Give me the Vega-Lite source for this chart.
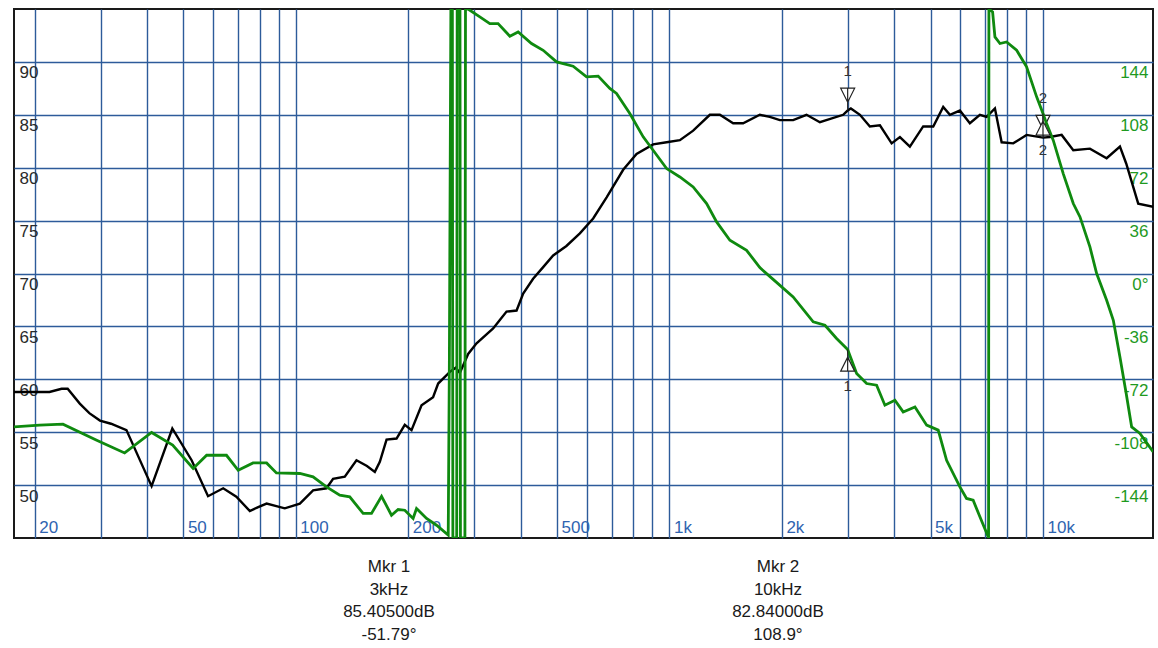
{
  "$schema": "https://vega.github.io/schema/vega-lite/v6.json",
  "background": "white",
  "padding": {"left": 13, "top": 8, "right": 4, "bottom": 0},
  "config": {
    "view": {"stroke": "#1a1a1a", "strokeWidth": 2},
    "axis": {
      "domain": false,
      "ticks": false,
      "tickSize": 0,
      "title": null,
      "labelFont": "Liberation Sans",
      "labelFontSize": 17,
      "labelOverlap": false,
      "labelBound": false,
      "labelFlush": false,
      "gridColor": "#2d5b9a",
      "gridWidth": 1.4,
      "gridOpacity": 1
    },
    "text": {"font": "Liberation Sans"}
  },
  "datasets": {
    "magnitude": [
      {"freq": 17.6, "db": 58.8}, {"freq": 19.5, "db": 58.8}, {"freq": 21.9, "db": 58.8}, {"freq": 23.6, "db": 59.1},
      {"freq": 24.5, "db": 59.1}, {"freq": 26.4, "db": 57.7}, {"freq": 28, "db": 56.8}, {"freq": 29.9, "db": 56.1},
      {"freq": 32, "db": 55.8}, {"freq": 35.2, "db": 55.2}, {"freq": 41.1, "db": 49.9}, {"freq": 46.7, "db": 55.35},
      {"freq": 52.6, "db": 52.35}, {"freq": 58.2, "db": 48.95}, {"freq": 63.9, "db": 49.7}, {"freq": 69.3, "db": 48.9},
      {"freq": 75.3, "db": 47.55}, {"freq": 79, "db": 47.9}, {"freq": 83.5, "db": 48.25}, {"freq": 93.4, "db": 47.8},
      {"freq": 102.5, "db": 48.25}, {"freq": 111.2, "db": 49.5}, {"freq": 120.8, "db": 49.7}, {"freq": 125.8, "db": 50.6},
      {"freq": 135.2, "db": 50.8}, {"freq": 145.3, "db": 52.35}, {"freq": 155, "db": 51.8}, {"freq": 162.7, "db": 51.25},
      {"freq": 167.8, "db": 52.2}, {"freq": 174.9, "db": 54.3}, {"freq": 186, "db": 54.4}, {"freq": 195.7, "db": 55.7},
      {"freq": 204, "db": 55.2}, {"freq": 217, "db": 57.55}, {"freq": 233, "db": 58.3}, {"freq": 240.4, "db": 59.6},
      {"freq": 258.4, "db": 60.7}, {"freq": 268, "db": 61.1}, {"freq": 274.8, "db": 60.6}, {"freq": 289.2, "db": 62.4},
      {"freq": 304.6, "db": 63.4}, {"freq": 337.4, "db": 64.8}, {"freq": 351.6, "db": 65.6}, {"freq": 366.4, "db": 66.4},
      {"freq": 389.8, "db": 66.5}, {"freq": 406, "db": 68.1}, {"freq": 431.6, "db": 69.5}, {"freq": 459.2, "db": 70.6},
      {"freq": 488.4, "db": 71.7}, {"freq": 530, "db": 72.6}, {"freq": 575.8, "db": 73.8}, {"freq": 625, "db": 75.2},
      {"freq": 679, "db": 77.2}, {"freq": 752, "db": 79.8}, {"freq": 816.6, "db": 81.3}, {"freq": 904.4, "db": 82.2},
      {"freq": 982.8, "db": 82.4}, {"freq": 1066.6, "db": 82.6}, {"freq": 1157.6, "db": 83.5}, {"freq": 1283, "db": 85.0},
      {"freq": 1364.6, "db": 85.0}, {"freq": 1481, "db": 84.2}, {"freq": 1575, "db": 84.2}, {"freq": 1746, "db": 85.0},
      {"freq": 1857, "db": 84.8}, {"freq": 1975, "db": 84.5}, {"freq": 2144, "db": 84.5}, {"freq": 2328, "db": 85.0},
      {"freq": 2528, "db": 84.3}, {"freq": 2918, "db": 85.0}, {"freq": 3000, "db": 85.4}, {"freq": 3060, "db": 85.6},
      {"freq": 3236, "db": 85.0}, {"freq": 3440, "db": 83.9}, {"freq": 3660, "db": 84.0}, {"freq": 3934, "db": 82.3},
      {"freq": 4140, "db": 82.9}, {"freq": 4402, "db": 82.0}, {"freq": 4778, "db": 83.9}, {"freq": 5084, "db": 83.9},
      {"freq": 5406, "db": 85.75}, {"freq": 5634, "db": 85.0}, {"freq": 5992, "db": 85.4}, {"freq": 6372, "db": 84.2},
      {"freq": 6778, "db": 85.0}, {"freq": 7064, "db": 84.8}, {"freq": 7436, "db": 85.6}, {"freq": 7750, "db": 82.4},
      {"freq": 8324, "db": 82.3}, {"freq": 9038, "db": 83.1}, {"freq": 10000, "db": 82.84}, {"freq": 10434, "db": 82.9},
      {"freq": 11218, "db": 83.1}, {"freq": 12052, "db": 81.65}, {"freq": 13354, "db": 81.8}, {"freq": 14804, "db": 80.9},
      {"freq": 16068, "db": 82.0}, {"freq": 16700, "db": 80.4}, {"freq": 17986, "db": 76.6}, {"freq": 19726, "db": 76.3}
    ],
    "phase": [
      {"freq": 17.6, "deg": -104.4}, {"freq": 20.6, "deg": -103.2}, {"freq": 23.8, "deg": -102.5}, {"freq": 29.3, "deg": -113.5},
      {"freq": 34.8, "deg": -122.1}, {"freq": 41.1, "deg": -108.2}, {"freq": 46.8, "deg": -116.8}, {"freq": 53.1, "deg": -132.7},
      {"freq": 57.7, "deg": -123.7}, {"freq": 65.2, "deg": -123.7}, {"freq": 70.1, "deg": -133.9}, {"freq": 76.8, "deg": -128.9},
      {"freq": 83.5, "deg": -128.9}, {"freq": 88.7, "deg": -135.7}, {"freq": 102.5, "deg": -136.1}, {"freq": 111.2, "deg": -138.4},
      {"freq": 120.8, "deg": -145.2}, {"freq": 131.1, "deg": -150.9}, {"freq": 139.4, "deg": -152}, {"freq": 151.4, "deg": -163.3},
      {"freq": 159.4, "deg": -163.3}, {"freq": 169.6, "deg": -151.6}, {"freq": 180.3, "deg": -164.5}, {"freq": 187.8, "deg": -160.6},
      {"freq": 195.7, "deg": -161.1}, {"freq": 206, "deg": -166.7}, {"freq": 210.4, "deg": -159.9}, {"freq": 223.8, "deg": -166.7},
      {"freq": 238, "deg": -171.3}, {"freq": 255.8, "deg": -178}, {"freq": 257.6, "deg": -60}, {"freq": 260, "deg": 180},
      {"freq": 262.4, "deg": 180}, {"freq": 263.2, "deg": -180}, {"freq": 269.5, "deg": -180}, {"freq": 270.3, "deg": 180},
      {"freq": 275, "deg": 180}, {"freq": 275.8, "deg": -180}, {"freq": 283.5, "deg": -180}, {"freq": 284.5, "deg": 180},
      {"freq": 289, "deg": 180}, {"freq": 310.8, "deg": 174.6}, {"freq": 330.6, "deg": 170.1}, {"freq": 347.8, "deg": 170.1},
      {"freq": 374, "deg": 161.5}, {"freq": 393.6, "deg": 164.4}, {"freq": 427.4, "deg": 156.5}, {"freq": 459.2, "deg": 151.9},
      {"freq": 498.8, "deg": 144}, {"freq": 552.4, "deg": 141.1}, {"freq": 600, "deg": 133.8}, {"freq": 644.6, "deg": 134.3},
      {"freq": 692.6, "deg": 125.9}, {"freq": 721.8, "deg": 122.5}, {"freq": 783.4, "deg": 108.9}, {"freq": 850.6, "deg": 93},
      {"freq": 904.4, "deg": 83.9}, {"freq": 982.8, "deg": 71.4}, {"freq": 1066.6, "deg": 65.7}, {"freq": 1157.6, "deg": 58.9},
      {"freq": 1257.6, "deg": 47.6}, {"freq": 1337.6, "deg": 35.1}, {"freq": 1451.6, "deg": 22.6}, {"freq": 1608.8, "deg": 15.8},
      {"freq": 1746, "deg": 4}, {"freq": 1895, "deg": -4}, {"freq": 2144, "deg": -15.9}, {"freq": 2426, "deg": -32.9},
      {"freq": 2608, "deg": -35.2}, {"freq": 2802, "deg": -44.2}, {"freq": 3000, "deg": -51.79}, {"freq": 3170, "deg": -68.1},
      {"freq": 3372, "deg": -74.9}, {"freq": 3586, "deg": -76}, {"freq": 3774, "deg": -89.6}, {"freq": 4014, "deg": -86.2},
      {"freq": 4224, "deg": -94.2}, {"freq": 4542, "deg": -90.8}, {"freq": 4882, "deg": -103.2}, {"freq": 5242, "deg": -106.6},
      {"freq": 5520, "deg": -127.1}, {"freq": 5992, "deg": -145.2}, {"freq": 6242, "deg": -153.1}, {"freq": 6502, "deg": -154.3},
      {"freq": 6778, "deg": -165.6}, {"freq": 7136, "deg": -179.3}, {"freq": 7150, "deg": -180}, {"freq": 7165, "deg": 180},
      {"freq": 7330, "deg": 178}, {"freq": 7436, "deg": 161}, {"freq": 7670, "deg": 156.5}, {"freq": 7992, "deg": 157.6},
      {"freq": 8500, "deg": 151.9}, {"freq": 9038, "deg": 140.6}, {"freq": 9616, "deg": 120.2}, {"freq": 10000, "deg": 108.9},
      {"freq": 10224, "deg": 102}, {"freq": 10650, "deg": 90.7}, {"freq": 11328, "deg": 68}, {"freq": 12052, "deg": 47.6},
      {"freq": 12562, "deg": 38.5}, {"freq": 13354, "deg": 18.1}, {"freq": 13920, "deg": 0}, {"freq": 14804, "deg": -18.2},
      {"freq": 15426, "deg": -31.9}, {"freq": 16068, "deg": -56.8}, {"freq": 16700, "deg": -81.7}, {"freq": 17272, "deg": -104.4},
      {"freq": 18178, "deg": -108.9}, {"freq": 19726, "deg": -121.4}
    ],
    "markers": [
      {"mkr": "1", "freq": 3000, "db": 85.405, "deg": -51.79},
      {"mkr": "2", "freq": 10000, "db": 82.84, "deg": 108.9}
    ]
  },
  "vconcat": [
    {
      "width": 1139,
      "height": 529,
      "encoding": {
        "x": {
          "field": "freq",
          "type": "quantitative",
          "scale": {"type": "log", "domain": [17.6, 19700], "nice": false},
          "axis": {
            "orient": "bottom",
            "grid": true,
            "values": [20, 30, 40, 50, 60, 70, 80, 90, 100, 200, 300, 400, 500, 600, 700, 800, 900, 1000, 2000, 3000, 4000, 5000, 6000, 7000, 8000, 9000, 10000],
            "labelExpr": "(datum.value == 20 || datum.value == 50 || datum.value == 100 || datum.value == 200 || datum.value == 500) ? '' + datum.value : ((datum.value == 1000 || datum.value == 2000 || datum.value == 5000 || datum.value == 10000) ? (datum.value / 1000) + 'k' : '')",
            "labelAlign": "left",
            "labelBaseline": "alphabetic",
            "labelPadding": -6,
            "labelOffset": 4,
            "labelColor": "#2f64b0"
          }
        }
      },
      "layer": [
        {
          "encoding": {
            "y": {
              "field": "db",
              "type": "quantitative",
              "scale": {"domain": [45, 95], "nice": false, "zero": false},
              "axis": {
                "orient": "left",
                "grid": true,
                "values": [50, 55, 60, 65, 70, 75, 80, 85, 90],
                "labelExpr": "'' + datum.value",
                "labelAlign": "left",
                "labelBaseline": "top",
                "labelPadding": -5,
                "labelOffset": 3,
                "labelColor": "#2a2a2a"
              }
            }
          },
          "layer": [
            {
              "data": {"name": "magnitude"},
              "mark": {"type": "line", "color": "#000000", "strokeWidth": 2.4, "clip": true}
            },
            {
              "data": {"name": "markers"},
              "mark": {
                "type": "point",
                "shape": "M-1,-1H1L0,1Z M0,1V2.2 M0,-1V1",
                "size": 196,
                "filled": true,
                "fill": "white",
                "stroke": "#222222",
                "strokeWidth": 1.2,
                "opacity": 1,
                "yOffset": -15.3
              }
            },
            {
              "data": {"name": "markers"},
              "mark": {"type": "text", "fontSize": 15, "color": "#333333", "yOffset": -40},
              "encoding": {"text": {"field": "mkr", "type": "nominal"}}
            }
          ]
        },
        {
          "encoding": {
            "y": {
              "field": "deg",
              "type": "quantitative",
              "scale": {"domain": [-180, 180], "nice": false, "zero": false},
              "axis": {
                "orient": "right",
                "grid": false,
                "values": [-144, -108, -72, -36, 0, 36, 72, 108, 144],
                "labelExpr": "datum.value == 0 ? '0°' : '' + datum.value",
                "labelAlign": "right",
                "labelBaseline": "top",
                "labelPadding": -5,
                "labelOffset": 3,
                "labelColor": "#1f9a1f"
              }
            }
          },
          "layer": [
            {
              "data": {"name": "phase"},
              "mark": {"type": "line", "color": "#0f8a0f", "strokeWidth": 2.8, "clip": true}
            },
            {
              "data": {"name": "markers"},
              "mark": {
                "type": "point",
                "shape": "M-1,1H1L0,-1Z M0,-1V-2.1 M0,-1V1",
                "size": 196,
                "filled": true,
                "fill": "white",
                "stroke": "#222222",
                "strokeWidth": 1.2,
                "opacity": 1,
                "yOffset": 14.6
              }
            },
            {
              "data": {"name": "markers"},
              "mark": {"type": "text", "fontSize": 15, "color": "#333333", "yOffset": 36.5},
              "encoding": {"text": {"field": "mkr", "type": "nominal"}}
            }
          ]
        }
      ],
      "resolve": {"scale": {"y": "independent"}, "axis": {"y": "independent"}}
    },
    {
      "width": 1139,
      "height": 56,
      "view": {"stroke": null},
      "data": {"name": "markers"},
      "transform": [
        {
          "calculate": "['Mkr ' + datum.mkr, (datum.freq / 1000) + 'kHz', format(datum.db, '.5f') + 'dB', replace(format(datum.deg, '.4'), '−', '-') + '°']",
          "as": "readout"
        }
      ],
      "mark": {"type": "text", "fontSize": 17, "lineHeight": 22.5, "color": "#1a1a1a", "baseline": "middle"},
      "encoding": {
        "x": {"field": "mkr", "type": "ordinal", "scale": {"type": "point", "padding": 0.964}, "axis": null},
        "text": {"field": "readout", "type": "nominal"}
      }
    }
  ],
  "spacing": 0,
  "resolve": {"scale": {"x": "independent"}}
}
